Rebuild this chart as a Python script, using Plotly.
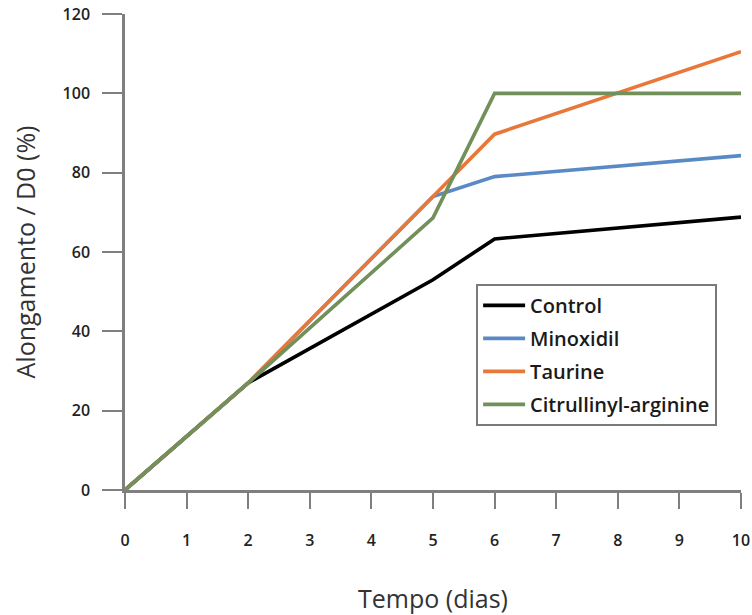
import plotly.graph_objects as go

days = [0, 2, 5, 6, 10]
control = [0, 27, 53, 63.3, 68.8]
minoxidil = [0, 27, 74, 79, 84.3]
taurine = [0, 27, 74, 89.7, 110.5]
citrullinyl = [0, 27, 68.6, 100, 100]

series_names = ["Control", "Minoxidil", "Taurine", "Citrullinyl-arginine"]
series_values = [control, minoxidil, taurine, citrullinyl]
series_colors = ["#000000", "#5A8AC6", "#E8773A", "#71905A"]

x_ticks = list(range(0, 11))
y_ticks = [0, 20, 40, 60, 80, 100, 120]

fig = go.Figure()
for name, vals, col in zip(series_names, series_values, series_colors):
    fig.add_trace(go.Scatter(
        x=days, y=vals, mode="lines", name=name, legendgroup=name,
        line=dict(color=col, width=3.6), cliponaxis=False,
    ))

axis_color = "#7f7f7f"
tick_font = dict(family="Open Sans", size=16, color="#222222", weight=600)

fig.update_layout(
    width=752, height=615,
    margin=dict(l=125, r=11, t=14, b=125),
    paper_bgcolor="white", plot_bgcolor="white",
    showlegend=True,
    legend=dict(
        x=0.57, y=0.433, xanchor="left", yanchor="top",
        bordercolor="#7a7a7a", borderwidth=2, bgcolor="white",
        font=dict(family="Open Sans", size=20, color="#1a1a1a", weight=600),
        tracegroupgap=4, itemwidth=42,
    ),
    xaxis=dict(
        range=[0, 10], tickvals=x_ticks, ticktext=[str(v) for v in x_ticks],
        showgrid=False, zeroline=False, showline=True, linecolor=axis_color, linewidth=2.5,
        ticks="outside", ticklen=16, tickwidth=2, tickcolor=axis_color,
        tickfont=tick_font, ticklabelstandoff=18, automargin=False,
        ticklabeloverflow="allow",
        title=dict(text="Tempo (dias)", font=dict(family="Open Sans", size=25, color="#333333"), standoff=46),
    ),
    yaxis=dict(
        range=[0, 120], tickvals=y_ticks, ticktext=[str(v) for v in y_ticks],
        showgrid=False, zeroline=False, showline=True, linecolor=axis_color, linewidth=2.5,
        ticks="outside", ticklen=20, tickwidth=2, tickcolor=axis_color,
        tickfont=tick_font, ticklabelstandoff=9, automargin=False,
        ticklabeloverflow="allow",
        title=dict(text="Alongamento / D0 (%)\u00a0\u00a0\u00a0\u00a0",
                   font=dict(family="Open Sans", size=25, color="#333333"), standoff=20),
    ),
)

fig.write_html("out.html", config={"displayModeBar": False},
               post_script="document.body.style.margin='0px';")
